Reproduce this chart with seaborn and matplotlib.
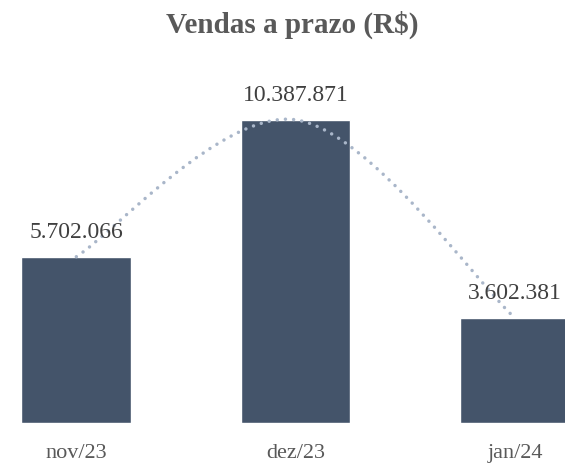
import numpy as np
import pandas as pd
import seaborn as sns
import matplotlib.pyplot as plt
from matplotlib.path import Path
from matplotlib.patches import PathPatch

meses = ["nov/23", "dez/23", "jan/24"]
vendas = [5702066, 10387871, 3602381]
rotulos = ["5.702.066", "10.387.871", "3.602.381"]

df = pd.DataFrame({"mes": meses, "vendas": vendas})

sns.set_style("white")
plt.rcParams["font.family"] = ["Liberation Serif", "DejaVu Serif"]

fig = plt.figure(figsize=(5.65, 4.63), dpi=100)
ax = fig.add_axes([0, 0.0857, 1, 0.7415])

sns.barplot(x="mes", y="vendas", data=df, color="#44546A", width=0.5,
            saturation=1, ax=ax, zorder=2)

# smoothed line through bar tops (Catmull-Rom style bezier, like Excel)
pts = np.column_stack([np.arange(len(vendas)), vendas]).astype(float)
verts = [pts[0]]
codes = [Path.MOVETO]
for i in range(len(pts) - 1):
    p0 = pts[max(i - 1, 0)]
    p1 = pts[i]
    p2 = pts[i + 1]
    p3 = pts[min(i + 2, len(pts) - 1)]
    verts += [p1 + (p2 - p0) / 6, p2 - (p3 - p1) / 6, p2]
    codes += [Path.CURVE4] * 3
curve = PathPatch(Path(verts, codes), fill=False, edgecolor="#A9B6C9",
                  linewidth=2.5, linestyle=(0, (0.01, 2.35)),
                  capstyle="round", zorder=3)
ax.add_patch(curve)

for i, (v, txt) in enumerate(zip(vendas, rotulos)):
    ax.annotate(txt, (i, v), xytext=(0, 10), textcoords="offset points",
                ha="center", va="bottom", fontsize=17, color="#404040")

ax.set_xlim(-0.348, 2.228)
ax.set_ylim(0, 11.75e6)
ax.set_xlabel("")
ax.set_ylabel("")
ax.set_yticks([])
ax.tick_params(axis="x", length=0, pad=15, labelsize=16, labelcolor="#595959")
sns.despine(ax=ax, left=True, bottom=True)

fig.text(0.518, 0.946, "Vendas a prazo (R$)", ha="center", va="center",
         fontsize=21, fontweight="bold", color="#595959")

plt.savefig("out.png", dpi=100)
